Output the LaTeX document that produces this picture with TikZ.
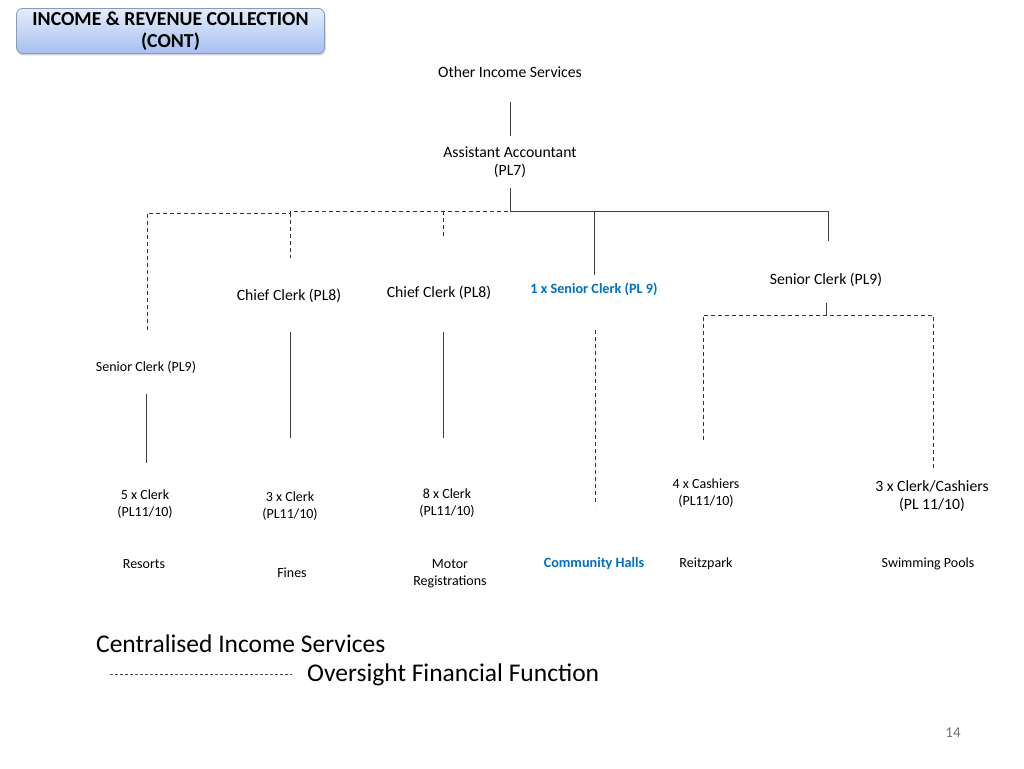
\documentclass[tikz,border=0pt]{standalone}
\usepackage{fontspec}
\setmainfont{Carlito}
\usetikzlibrary{shadows}
\definecolor{ttlblue}{HTML}{0070C0}
\definecolor{boxtop}{HTML}{E4ECFC}
\definecolor{boxbot}{HTML}{A6C0F0}
\definecolor{boxedge}{HTML}{8A9BB8}
\begin{document}
\begin{tikzpicture}[x=1pt,y=-1pt,
  lbl/.style={inner sep=0pt,align=center,font=\fontsize{14}{17}\selectfont},
  lblm/.style={inner sep=0pt,align=center,font=\fontsize{15.7}{18.5}\selectfont},
  bluelbl/.style={inner sep=0pt,align=center,text=ttlblue,font=\fontsize{14.2}{16}\selectfont\bfseries},
  solidln/.style={draw=black!75,line width=1pt},
  dashln/.style={draw=black!80,line width=0.8pt,dash pattern=on 4pt off 3pt},
  big/.style={inner sep=0pt,anchor=west,font=\fontsize{25.5}{28}\selectfont}]
\useasboundingbox[fill=white] (0,0) rectangle (1024,768);
% title
\node[draw=boxedge,line width=0.8pt,rounded corners=6pt,top color=boxtop,bottom color=boxbot,
  drop shadow={shadow xshift=1pt,shadow yshift=-2pt,opacity=0.35},
  minimum width=308pt,minimum height=45pt,inner sep=0pt,align=center,
  font=\fontsize{19.8}{22}\selectfont\bfseries] (title) at (170.5,31) {INCOME \& REVENUE COLLECTION\\(CONT)};
% nodes
\node[lblm] (ois) at (510,72) {Other Income Services};
\node[lblm] (aa) at (510,162) {Assistant Accountant\\(PL7)};
\node[lblm] (cc1) at (289,296) {Chief Clerk (PL8)};
\node[lblm] (cc2) at (439,293) {Chief Clerk (PL8)};
\node[bluelbl] (sc1) at (594,289) {1 x Senior Clerk (PL 9)};
\node[lblm] (sc2) at (826,280) {Senior Clerk (PL9)};
\node[lbl] (sc3) at (146,367) {Senior Clerk (PL9)};
\node[lbl] (c5) at (145,504.5) {5 x Clerk\\(PL11/10)};
\node[lbl] (c3) at (290,506) {3 x Clerk\\(PL11/10)};
\node[lbl] (c8) at (447,503.5) {8 x Clerk\\(PL11/10)};
\node[lbl] (cash4) at (706,493.5) {4 x Cashiers\\(PL11/10)};
\node[lblm] (cash3) at (932,496) {3 x Clerk/Cashiers\\(PL 11/10)};
\node[lbl] (res) at (144,564) {Resorts};
\node[lbl] (fin) at (292,573) {Fines};
\node[lbl] (mot) at (450,573.5) {Motor\\Registrations};
\node[bluelbl] (ch) at (594,564) {Community Halls};
\node[lbl] (rei) at (706,564) {Reitzpark};
\node[lbl] (swi) at (928,564) {Swimming Pools};
% coordinates
\coordinate (a1) at (510,102); \coordinate (a2) at (510,136);
\coordinate (b1) at (510,188); \coordinate (bj) at (510,211);
\coordinate (r1) at (594,211); \coordinate (r2) at (594,275);
\coordinate (s1) at (828,211); \coordinate (s2) at (828,241);
\coordinate (d0) at (147,213); \coordinate (d0b) at (147,330);
\coordinate (d1) at (290,213); \coordinate (d1b) at (290,258);
\coordinate (d2) at (443,211); \coordinate (d2b) at (443,238);
\coordinate (t1) at (826,303); \coordinate (t2) at (826,315);
\coordinate (e0) at (703,315); \coordinate (e0b) at (703,440);
\coordinate (e1) at (933,315); \coordinate (e1b) at (933,468);
% solid lines
\draw[solidln] (a1) -- (a2);
\draw[solidln] (b1) -- (bj) -- (s1) -- (s2);
\draw[solidln] (r1) -- (r2);
\draw[solidln] (t1) -- (t2);
\draw[solidln] (146,394) -- (146,463);
\draw[solidln] (290,332) -- (290,438);
\draw[solidln] (443,332) -- (443,438);
% dashed lines
\draw[dashln] (d0b) -- (d0) -- (d1) -- (290,211) -- (bj);
\draw[dashln] (d1) -- (d1b);
\draw[dashln] (d2) -- (d2b);
\draw[dashln] (e0b) -- (e0) -- (e1) -- (e1b);
\draw[dashln] (595,330) -- (595,505);
% legend
\node[big] (leg1) at (96,644) {Centralised Income Services};
\node[big] (leg2) at (307,675) {Oversight Financial Function};
\coordinate (lg0) at (110,674);
\coordinate (lg1) at (292,674);
\draw[draw=black!70,line width=0.6pt,dash pattern=on 3pt off 2pt] (lg0) -- (lg1);
\node[inner sep=0pt,text=black!55,font=\fontsize{15}{16}\selectfont] (pg) at (953,733) {14};
\end{tikzpicture}
\end{document}
